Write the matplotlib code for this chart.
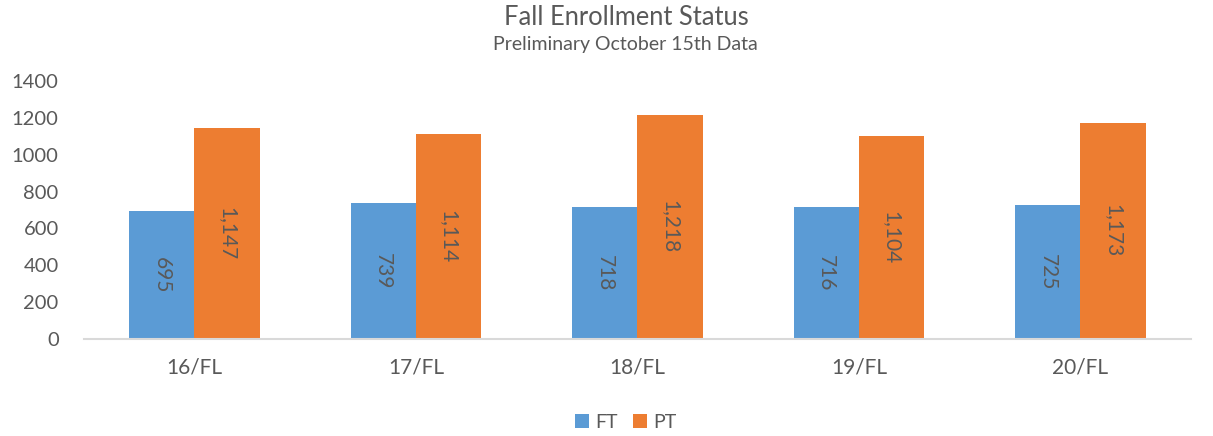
import matplotlib
matplotlib.use("Agg")
import matplotlib.pyplot as plt
import numpy as np

categories = ["16/FL", "17/FL", "18/FL", "19/FL", "20/FL"]
ft_values = [695, 739, 718, 716, 725]
pt_values = [1147, 1114, 1218, 1104, 1173]
yticks = [0, 200, 400, 600, 800, 1000, 1200, 1400]

plt.rcParams['font.family'] = ['Lato', 'DejaVu Sans']
gray = '#595959'
blue = '#5B9BD5'
orange = '#ED7D31'

fig = plt.figure(figsize=(12.13, 4.36), dpi=100)
ax = fig.add_axes([0.069, 0.2225, 0.913, 0.5917])

x = np.arange(len(categories))
w = 0.295
b1 = ax.bar(x - w/2, ft_values, w, color=blue, label='FT')
b2 = ax.bar(x + w/2, pt_values, w, color=orange, label='PT')

for bars, vals in ((b1, ft_values), (b2, pt_values)):
    for r, v in zip(bars, vals):
        ax.text(r.get_x() + r.get_width()/2, v/2, f"{v:,}", rotation=270,
                ha='center', va='center', fontsize=15, color=gray)

ax.set_xlim(-0.5, len(categories) - 0.5)
ax.set_ylim(0, 1400)
ax.set_yticks(yticks)
ax.set_yticklabels([str(t) for t in yticks], fontsize=14.5, color=gray)
ax.set_xticks(x)
ax.set_xticklabels(categories, fontsize=15, color=gray)
ax.tick_params(axis='both', length=0)
ax.tick_params(axis='y', pad=18)
ax.tick_params(axis='x', pad=13)
for s in ['top', 'right', 'left']:
    ax.spines[s].set_visible(False)
ax.spines['bottom'].set_color('#D9D9D9')
ax.spines['bottom'].set_linewidth(1.5)

t1 = fig.text(0.5165, 0.961, "Fall Enrollment Status", ha='center', va='center', fontsize=16, color=gray)
t2 = fig.text(0.5155, 0.897, "Preliminary October 15th Data", ha='center', va='center', fontsize=12, color=gray)

# scale title font sizes to match the reference text widths
renderer = fig.canvas.get_renderer()
for t, target in ((t1, 246.0), (t2, 264.0)):
    wpx = t.get_window_extent(renderer).width
    t.set_fontsize(t.get_fontsize() * target / wpx)

fig.legend(loc='center', bbox_to_anchor=(0.516, 0.031), ncol=2, frameon=False,
           fontsize=14, labelcolor=gray, handlelength=0.72, handleheight=0.72,
           columnspacing=0.8, handletextpad=0.3)

fig.savefig("out.png", dpi=100)
